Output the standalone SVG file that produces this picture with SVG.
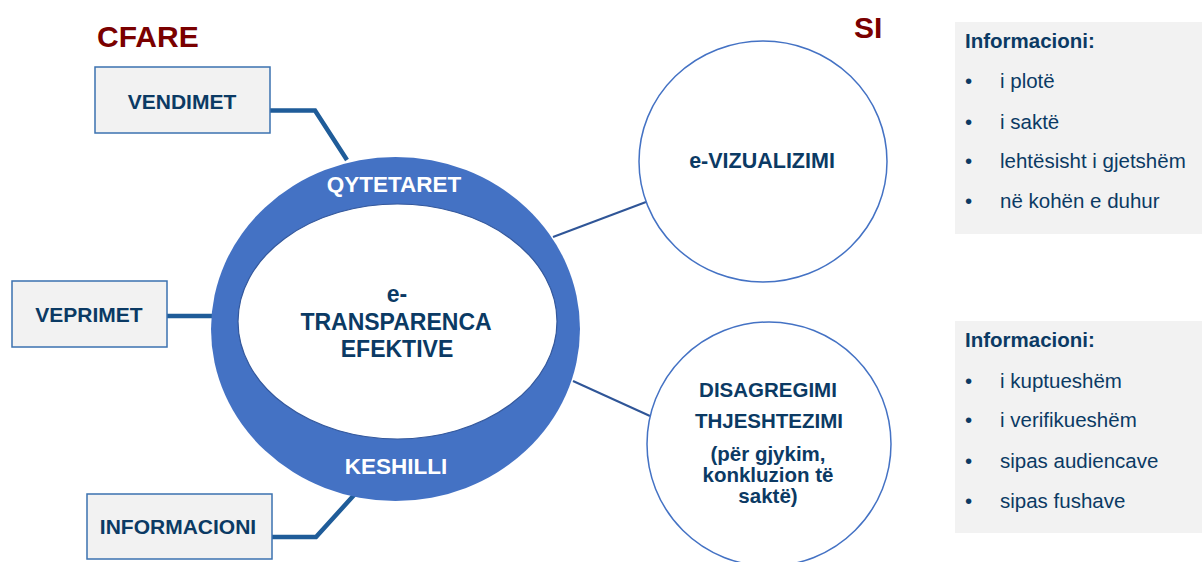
<svg xmlns="http://www.w3.org/2000/svg" width="1202" height="562" viewBox="0 0 1202 562">
<style>
.title{font-family:"Liberation Sans",Arial,sans-serif;font-weight:bold;font-size:30px;fill:#7a0000}
.box{fill:#f2f2f2;stroke:#3b72b0;stroke-width:1.5}
.bt{font-family:"Liberation Sans",Arial,sans-serif;font-weight:bold;font-size:21px;fill:#0b3a64;text-anchor:middle}
.ring{font-family:"Liberation Sans",Arial,sans-serif;font-weight:bold;font-size:22.5px;fill:#ffffff;text-anchor:middle}
.ct{font-family:"Liberation Sans",Arial,sans-serif;font-weight:bold;font-size:23px;fill:#0b3a64;text-anchor:middle}
.cir{fill:#ffffff;stroke:#4472c4;stroke-width:1.5}
.cirt{font-family:"Liberation Sans",Arial,sans-serif;font-weight:bold;font-size:20.5px;fill:#0b3a64;text-anchor:middle}
.thick{fill:none;stroke:#1f5c99;stroke-width:4.5}
.thin{fill:none;stroke:#2f5597;stroke-width:2}
.panel{fill:#f2f2f2}
.ph{font-family:"Liberation Sans",Arial,sans-serif;font-weight:bold;font-size:20.5px;fill:#0b3a64}
.pi{font-family:"Liberation Sans",Arial,sans-serif;font-size:20.5px;fill:#0b3a64}
</style>
<rect width="1202" height="562" fill="#ffffff"/>
<text class="title" x="97" y="47">CFARE</text>
<text class="title" x="854" y="38">SI</text>
<g id="connectors">
<polyline class="thick" points="270,110.5 315,110.5 347,160"/>
<line class="thick" x1="167" y1="316" x2="213" y2="316"/>
<polyline class="thick" points="272,537 316,537 355,494"/>
<line class="thin" x1="553" y1="237" x2="646" y2="202"/>
<line class="thin" x1="573" y1="381" x2="650" y2="416"/>
</g>
<g id="center">
<ellipse cx="395.5" cy="329" rx="184.5" ry="172" fill="#4472c4"/>
<ellipse cx="397.5" cy="321.5" rx="159.5" ry="117.5" fill="#ffffff" stroke="#34589c" stroke-width="1.2"/>
<text class="ring" x="394" y="192">QYTETARET</text>
<text class="ring" x="396" y="474">KESHILLI</text>
<text class="ct" x="397" y="302">e-</text>
<text class="ct" x="396" y="330">TRANSPARENCA</text>
<text class="ct" x="397" y="357">EFEKTIVE</text>
</g>
<g id="vendimet">
<rect class="box" x="95" y="67" width="175" height="66"/>
<text class="bt" x="182" y="109">VENDIMET</text>
</g>
<g id="veprimet">
<rect class="box" x="12" y="281" width="155" height="66"/>
<text class="bt" x="89" y="322">VEPRIMET</text>
</g>
<g id="informacioni">
<rect class="box" x="87" y="494" width="185" height="65"/>
<text class="bt" x="178" y="534">INFORMACIONI</text>
</g>
<g id="vizualizimi">
<ellipse class="cir" cx="763" cy="161.5" rx="124" ry="120.5"/>
<text class="cirt" x="762" y="168" style="font-size:21.5px">e-VIZUALIZIMI</text>
</g>
<g id="disagregimi">
<ellipse class="cir" cx="769" cy="444" rx="122" ry="122"/>
<text class="cirt" x="768" y="397">DISAGREGIMI</text>
<text class="cirt" x="769" y="428">THJESHTEZIMI</text>
<text class="cirt" x="768" y="461">(për gjykim,</text>
<text class="cirt" x="768" y="482">konkluzion të</text>
<text class="cirt" x="768" y="503">saktë)</text>
</g>
<g id="panel1">
<rect class="panel" x="955" y="22" width="247" height="212"/>
<text class="ph" x="965" y="48">Informacioni:</text>
<text class="pi" x="965" y="88">•</text><text class="pi" x="1000" y="88">i plotë</text>
<text class="pi" x="965" y="129">•</text><text class="pi" x="1000" y="129">i saktë</text>
<text class="pi" x="965" y="168">•</text><text class="pi" x="1000" y="168">lehtësisht i gjetshëm</text>
<text class="pi" x="965" y="208">•</text><text class="pi" x="1000" y="208">në kohën e duhur</text>
</g>
<g id="panel2">
<rect class="panel" x="955" y="321" width="247" height="212"/>
<text class="ph" x="965" y="347">Informacioni:</text>
<text class="pi" x="965" y="388">•</text><text class="pi" x="1000" y="388">i kuptueshëm</text>
<text class="pi" x="965" y="427">•</text><text class="pi" x="1000" y="427">i verifikueshëm</text>
<text class="pi" x="965" y="468">•</text><text class="pi" x="1000" y="468">sipas audiencave</text>
<text class="pi" x="965" y="508">•</text><text class="pi" x="1000" y="508">sipas fushave</text>
</g>
</svg>
